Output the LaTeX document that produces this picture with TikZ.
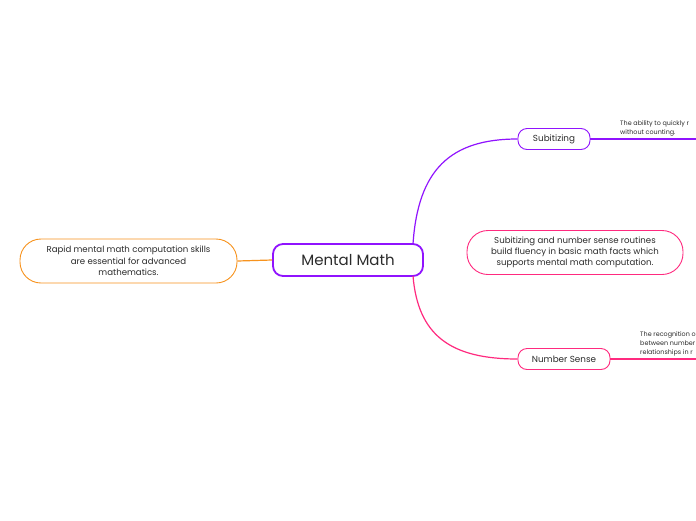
\documentclass[tikz,border=0pt]{standalone}
\usepackage{fontspec}
\setmainfont{Poppins}
\usepackage{tikz}

\definecolor{mmpurple}{HTML}{9013FE}
\definecolor{mmpink}{HTML}{FF2A7F}
\definecolor{mmorange}{HTML}{F7931E}
\definecolor{mmtext}{HTML}{2B2B2B}

\begin{document}
\begin{tikzpicture}[x=1pt,y=-1pt,
        topic/.style={draw,line width=1.8pt,rounded corners=10pt,minimum width=150pt,minimum height=32pt,
            inner sep=0pt,text=mmtext,font=\fontsize{15}{17}\selectfont},
        branch/.style={draw,line width=0.9pt,rounded corners=9pt,minimum height=21pt,inner sep=0pt,
            text=mmtext,font=\fontsize{8.8}{10}\selectfont},
        bubble/.style={draw,line width=0.9pt,rounded corners=21pt,minimum height=44pt,inner sep=0pt,
            align=center,text=mmtext,font=\fontsize{8.6}{11.3}\selectfont},
        note/.style={anchor=south west,align=left,inner sep=0pt,text=mmtext,
            font=\fontsize{6.4}{8.8}\selectfont}]
    \useasboundingbox (0,0) rectangle (696,520);
    \clip (0,0) rectangle (696,520);
    \fill[white] (0,0) rectangle (696,520);

    % Central topic
    \node[topic,draw=mmpurple] (main) at (348,260) {Mental Math};

    % Left note
    \node[bubble,draw=mmorange,minimum width=217pt] (skills) at (128.5,261)
        {Rapid mental math computation skills\\are essential for advanced\\mathematics.};

    % Middle note
    \node[bubble,draw=mmpink,minimum width=216pt] (routines) at (575,252.5)
        {Subitizing and number sense routines\\build fluency in basic math facts which\\supports mental math computation.};

    % Branches
    \node[branch,draw=mmpurple,minimum width=72pt] (subit) at (554,139) {Subitizing};
    \node[branch,draw=mmpink,minimum width=92pt] (sense) at (564,359) {Number Sense};

    % Branch notes
    \node[note] (subitnote) at (620,136) {The ability to quickly r\\without counting.};
    \node[note] (sensenote) at (640,356) {The recognition o\\between number\\relationships in r};
    \coordinate (subitend) at (696,139);
    \coordinate (senseend) at (696,359);

    % Connectors
    \draw[draw=mmorange,line width=1.2pt] (skills.east) -- (main.west);
    \draw[draw=mmpurple,line width=1.2pt] (413,244) .. controls (418,170) and (450,139) .. (subit.west);
    \draw[draw=mmpink,line width=1.2pt] (413,276) .. controls (418,335) and (450,359) .. (sense.west);
    \draw[draw=mmpurple,line width=1.3pt] (subit.east) -- (subitend);
    \draw[draw=mmpink,line width=1.3pt] (sense.east) -- (senseend);
\end{tikzpicture}
\end{document}
